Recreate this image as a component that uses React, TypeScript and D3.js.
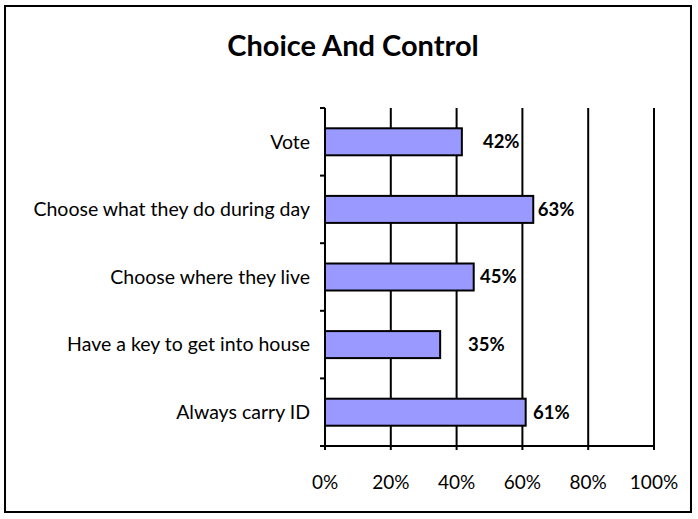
import React from "react";
import * as d3 from "d3";

const categories = [
  "Vote",
  "Choose what they do during day",
  "Choose where they live",
  "Have a key to get into house",
  "Always carry ID",
];
const values = [41.6, 63.3, 45.2, 35.0, 61.0];
const valueLabels = ["42%", "63%", "45%", "35%", "61%"];
// data-label anchor positions (percent units)
const labelAt = [48.0, 64.7, 47.1, 43.5, 63.2];
const ticks = [0, 20, 40, 60, 80, 100];

const W = 698;
const H = 519;
const FONT = "Lato, 'Open Sans', sans-serif";

export default function App() {
  const left = 325;
  const right = 654;
  const top = 108;
  const bottom = 446;
  const x = d3.scaleLinear().domain([0, 100]).range([left, right]);
  const step = (bottom - top) / categories.length;
  const bh = 27;

  return (
    <svg
      width={W}
      height={H}
      style={{ position: "absolute", left: 0, top: 0 }}
      fontFamily={FONT}
    >
      <rect x={0} y={0} width={W} height={H} fill="#fff" />
      <rect x={5} y={6} width={686} height={506} fill="none" stroke="#000" strokeWidth={2} />
      <text x={353} y={56} textAnchor="middle" fontSize={29} fontWeight="bold">
        Choice And Control
      </text>
      {ticks.slice(1).map((t) => (
        <line key={"g" + t} x1={x(t)} x2={x(t)} y1={top} y2={bottom} stroke="#000" strokeWidth={2} />
      ))}
      {categories.map((c, i) => {
        const cy = top + step * (i + 0.5);
        return (
          <g key={c}>
            <rect
              x={x(0)}
              y={cy - bh / 2}
              width={x(values[i]) - x(0)}
              height={bh}
              fill="#9999FF"
              stroke="#000"
              strokeWidth={2}
            />
            <text x={310} y={cy} dy="0.35em" textAnchor="end" fontSize={19.5}>
              {c}
            </text>
            <text x={x(labelAt[i])} y={cy} dy="0.35em" fontSize={18.5} fontWeight="bold">
              {valueLabels[i]}
            </text>
          </g>
        );
      })}
      {d3.range(categories.length + 1).map((k) => (
        <line
          key={"yt" + k}
          x1={left - 5}
          x2={left}
          y1={top + step * k}
          y2={top + step * k}
          stroke="#000"
          strokeWidth={2}
        />
      ))}
      <line x1={left} x2={left} y1={top} y2={bottom} stroke="#000" strokeWidth={2} />
      <line x1={left} x2={right} y1={bottom} y2={bottom} stroke="#000" strokeWidth={2} />
      {ticks.map((t) => (
        <g key={"xt" + t}>
          <line x1={x(t)} x2={x(t)} y1={bottom} y2={bottom + 4} stroke="#000" strokeWidth={2} />
          <text x={x(t)} y={489} textAnchor="middle" fontSize={19}>
            {t + "%"}
          </text>
        </g>
      ))}
    </svg>
  );
}
